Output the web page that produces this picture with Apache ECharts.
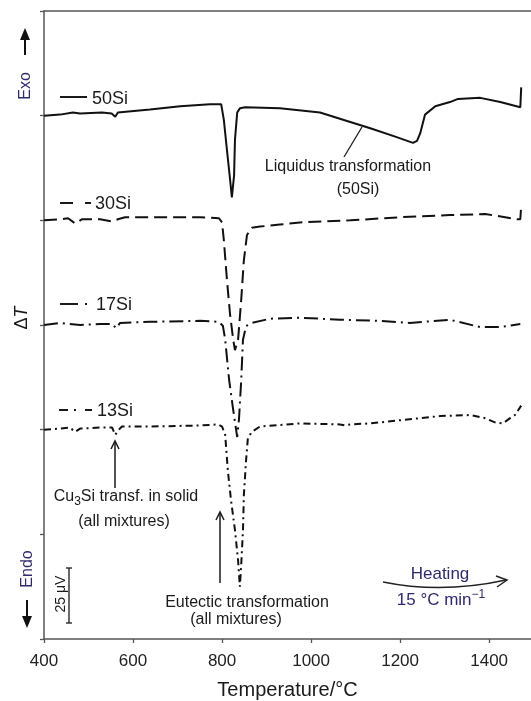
<!DOCTYPE html>
<html lang="en">
<head>
<meta charset="UTF-8">
<title>DTA heating curves</title>
<script src="https://cdn.jsdelivr.net/npm/echarts@6/dist/echarts.min.js"></script>
<style>
    *{margin:0;padding:0;}
    html,body{background:#fff;}
    #main{width:531px;height:701px;}
</style>
</head>
<body>
<div id="main"></div>
<script>
    // temperature ticks and curve data: [T (°C), signal (arb. units, offset per curve)]
    var xTicks = [400, 600, 800, 1000, 1200, 1400];
    var si50 = [[400,500],[436,501],[465,503],[481,502],[530,503],[552,502],[560,499],[566,503],[638,506],[706,509],
        [773,511],[798,511],[804,496],[811,467],[818,439],[822,422],[827,443],[829,477],[834,503],[840,507],[852,508],
        [930,507],[1020,503],[1088,494],[1133,488],[1189,480],[1229,474],[1238,476],[1245,483],[1256,501],[1279,509],
        [1312,513],[1330,516],[1380,517],[1425,513],[1470,508],[1472,527]];
    var si30 = [[400,400],[436,401],[454,402],[470,397],[485,401],[526,401],[553,399],[566,401],[582,403],[661,403],
        [751,403],[793,402],[800,398],[804,381],[811,343],[818,310],[825,286],[829,276],[836,286],[843,324],[849,362],
        [856,386],[867,393],[885,394],[930,396],[975,398],[1088,400],[1200,403],[1312,405],[1391,406],[1436,403],
        [1463,401],[1470,401],[1472,414]];
    var si17 = [[400,300],[436,302],[481,300],[526,301],[553,301],[562,297],[571,302],[638,303],[751,304],[793,303],
        [802,299],[807,286],[816,247],[825,219],[834,193],[838,210],[843,247],[847,286],[854,299],[867,302],[908,306],
        [975,307],[1065,305],[1155,304],[1222,302],[1312,305],[1380,298],[1425,298],[1470,301]];
    var si13 = [[400,200],[436,201],[458,202],[470,198],[481,201],[526,202],[553,202],[560,195],[566,199],[575,203],
        [638,203],[751,204],[791,205],[800,203],[807,195],[813,161],[820,133],[829,104],[836,75],[840,50],[843,71],
        [847,104],[849,138],[854,171],[858,192],[867,198],[885,203],[975,206],[1065,205],[1076,204],[1088,205],
        [1133,206],[1200,209],[1290,213],[1357,214],[1391,211],[1413,207],[1431,206],[1447,211],[1458,214],[1472,223]];

    var chart = echarts.init(document.getElementById('main'));
    var font = '"Liberation Sans", Arial, sans-serif';
    var navy = '#2e2a6c';
    var ink = '#1a1a1a';

    function seg(x1, y1, x2, y2, w, c) {
        return {type: 'line', z: 100, shape: {x1: x1, y1: y1, x2: x2, y2: y2},
            style: {stroke: c || ink, lineWidth: w || 1.5}};
    }
    function txt(x, y, t, size, opt) {
        opt = opt || {};
        return {type: 'text', z: 100, x: x, y: y, rotation: opt.rot || 0,
            style: {text: t, fontSize: size, fontFamily: font, fill: opt.color || ink,
                align: opt.align || 'center', verticalAlign: 'middle', rich: opt.rich}};
    }
    function openHead(x, y, dir) {
        // small open arrowhead, dir: 1 = up
        return {type: 'polyline', z: 100, shape: {points: [[x - 4, y + 8 * dir], [x, y], [x + 4, y + 8 * dir]]},
            style: {stroke: ink, lineWidth: 1.5, fill: null}};
    }
    function solidHead(x, y, dir) {
        return {type: 'polygon', z: 100, shape: {points: [[x - 5, y + 12 * dir], [x, y], [x + 5, y + 12 * dir]]},
            style: {fill: '#111'}};
    }

    function mkSeries(name, data, dash) {
        return {name: name, type: 'line', data: data, showSymbol: false, smooth: false,
            lineStyle: {color: '#111', width: 2, type: dash, cap: 'butt'}};
    }

    var graphics = [
        // sample labels
        seg(60, 97, 87, 97, 2), txt(92, 99, '50Si', 18, {align: 'left'}),
        seg(60, 203, 73, 203, 2), seg(85, 203, 91, 203, 2), txt(95, 204, '30Si', 18, {align: 'left'}),
        seg(60, 304, 78, 304, 2), seg(85, 304, 87, 304, 2), txt(96, 305, '17Si', 18, {align: 'left'}),
        seg(59, 410, 68, 410, 2), seg(74, 410, 76, 410, 2), seg(85, 410, 92, 410, 2), txt(97, 411, '13Si', 18, {align: 'left'}),
        // y-axis side labels
        txt(26, 86, 'Exo', 16, {rot: Math.PI / 2, color: navy}),
        seg(25, 38, 25, 55, 2, '#111'), solidHead(25, 28, 1),
        txt(22, 318, '{d|Δ}{i|T}', 18, {rot: Math.PI / 2, rich: {d: {fontSize: 18, fontFamily: font, fill: ink},
            i: {fontSize: 18, fontFamily: font, fontStyle: 'italic', fill: ink}}}),
        txt(28, 569, 'Endo', 16, {rot: Math.PI / 2, color: navy}),
        seg(27, 600, 27, 617, 2, '#111'), solidHead(27, 628, -1),
        // liquidus annotation
        seg(362, 127, 344, 157, 1.3),
        txt(348, 167, 'Liquidus transformation', 16),
        txt(358, 190, '(50Si)', 16),
        // Cu3Si annotation
        seg(115, 442, 115, 488, 1.5), openHead(115, 441, 1),
        txt(126, 497, '{a|Cu}{s|3}{a|Si transf. in solid}', 16, {rich: {
            a: {fontSize: 16, fontFamily: font, fill: ink, lineHeight: 20},
            s: {fontSize: 12, fontFamily: font, fill: ink, lineHeight: 20, padding: [9, 0, 0, 0]}}}),
        txt(124, 522, '(all mixtures)', 16),
        // eutectic annotation
        seg(220, 513, 220, 583, 1.5), openHead(220, 512, 1),
        txt(247, 603, 'Eutectic transformation', 16),
        txt(236, 620, '(all mixtures)', 16),
        // scale bar
        seg(69, 568, 69, 623, 1.3), seg(66, 568, 72, 568, 1.3), seg(66, 623, 72, 623, 1.3),
        txt(61, 594, '25 μV', 14, {rot: Math.PI / 2}),
        // heating arrow
        txt(440, 574, 'Heating', 17, {color: navy}),
        {type: 'bezierCurve', z: 100, shape: {x1: 383, y1: 582, x2: 506, y2: 580, cpx1: 442, cpy1: 594},
            style: {stroke: '#222', lineWidth: 1.5, fill: null}},
        {type: 'polyline', z: 100, shape: {points: [[496, 576], [507, 580], [497, 587]]},
            style: {stroke: '#222', lineWidth: 1.5, fill: null}},
        txt(441, 600, '{a|15 °C min}{p|−1}', 17, {rich: {
            a: {fontSize: 17, fontFamily: font, fill: navy, lineHeight: 22},
            p: {fontSize: 12, fontFamily: font, fill: navy, lineHeight: 22, padding: [0, 0, 10, 0]}}})
    ];

    var option = {
        backgroundColor: '#fff',
        animation: false,
        grid: {left: 44, right: 0, top: 11, bottom: 62, containLabel: false, outerBoundsMode: 'none'},
        xAxis: [{
            type: 'value', min: 400, max: 1494, interval: 200,
            name: 'Temperature/°C', nameLocation: 'middle', nameGap: 41,
            nameTextStyle: {fontSize: 20, fontFamily: font, color: ink},
            axisLine: {lineStyle: {color: '#555', width: 1.5}},
            axisTick: {length: 4, lineStyle: {color: '#555', width: 1.3}, customValues: xTicks},
            axisLabel: {fontSize: 17, fontFamily: font, color: '#222', margin: 14, customValues: xTicks,
                formatter: function (v) { return String(v); }},
            splitLine: {show: false}
        }, {
            type: 'value', position: 'top', min: 400, max: 1494,
            axisLine: {show: true, lineStyle: {color: '#555', width: 1.5}},
            axisTick: {show: false}, axisLabel: {show: false}, splitLine: {show: false}
        }],
        yAxis: {
            type: 'value', min: 0, max: 600, interval: 100,
            axisLine: {show: true, lineStyle: {color: '#555', width: 1.5}},
            axisTick: {show: true, length: 4, lineStyle: {color: '#555', width: 1.3}},
            axisLabel: {show: false},
            splitLine: {show: false}
        },
        series: [
            mkSeries('50Si', si50, 'solid'),
            mkSeries('30Si', si30, [13, 6]),
            mkSeries('17Si', si17, [14, 5, 2, 5]),
            mkSeries('13Si', si13, [7, 4, 2, 4])
        ],
        graphic: graphics
    };
    chart.setOption(option);
</script>
</body>
</html>
